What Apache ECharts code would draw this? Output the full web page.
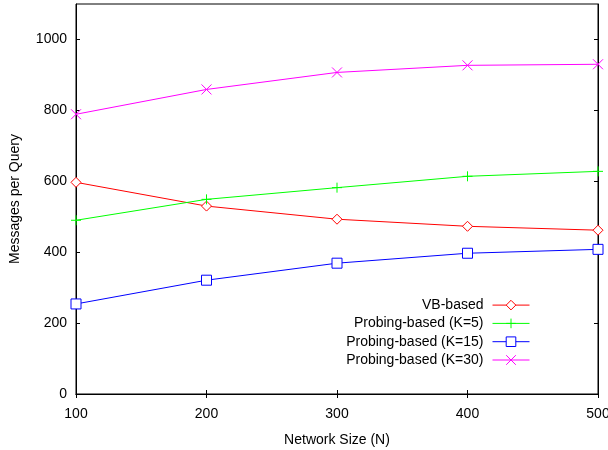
<!DOCTYPE html>
<html><head><meta charset="utf-8">
<script src="https://cdn.jsdelivr.net/npm/echarts@6/dist/echarts.min.js"></script>
<style>html,body{margin:0;padding:0;background:#fff}#c{width:608px;height:450px}</style>
</head><body><div id="c"></div>
<script>
const networkSizes = [100, 200, 300, 400, 500];
const vbBased = [597, 530, 493, 473, 462];
const probingK5 = [490, 549, 582, 614, 628];
const probingK15 = [254, 321, 369, 397, 408];
const probingK30 = [789, 859, 907, 927, 930];
const yTicks = [0, 200, 400, 600, 800, 1000];
const xTicks = [100, 200, 300, 400, 500];
const seriesNames = ['VB-based', 'Probing-based (K=5)', 'Probing-based (K=15)', 'Probing-based (K=30)'];

const font = 'Liberation Sans, Arial, sans-serif';
const plusPath = 'path://M5,0L5,10M0,5L10,5';
const crossPath = 'path://M0,0L10,10M10,0L0,10';

function mk(name, vals, color, symbol, size) {
  return {
    name: name, type: 'line',
    data: networkSizes.map((x, i) => [x, vals[i]]),
    symbol: symbol, symbolSize: size,
    lineStyle: {color: color, width: 1},
    itemStyle: {color: '#fff', borderColor: color, borderWidth: 1},
    emphasis: {disabled: true},
    animation: false
  };
}

const chart = echarts.init(document.getElementById('c'));
chart.setOption({
  animation: false,
  grid: {left: 76, right: 10, top: 4, bottom: 56, show: true, borderColor: '#000', borderWidth: 1,
         backgroundColor: 'transparent', containLabel: false, outerBoundsMode: 'none'},
  xAxis: [{
    type: 'value', min: 100, max: 500, interval: 100,
    name: 'Network Size (N)', nameLocation: 'middle', nameGap: 39,
    nameTextStyle: {fontFamily: font, fontSize: 14, color: '#000'},
    axisLine: {show: true, lineStyle: {color: '#000'}},
    axisTick: {show: true, inside: true, length: 4, lineStyle: {color: '#000'}},
    axisLabel: {fontFamily: font, fontSize: 14, color: '#000', margin: 13, formatter: v => String(v)},
    splitLine: {show: false}
  }, {
    type: 'value', min: 100, max: 500, interval: 100, position: 'top',
    axisLine: {show: true, lineStyle: {color: '#000'}},
    axisTick: {show: true, inside: true, length: 4, lineStyle: {color: '#000'}},
    axisLabel: {show: false}, splitLine: {show: false}
  }],
  yAxis: [{
    type: 'value', min: 0, max: 1100, interval: 200,
    name: 'Messages per Query', nameLocation: 'middle', nameGap: 54,
    nameTextStyle: {fontFamily: font, fontSize: 14, color: '#000'},
    axisLine: {show: true, lineStyle: {color: '#000'}},
    axisTick: {show: true, inside: true, length: 4, lineStyle: {color: '#000'}, customValues: yTicks},
    axisLabel: {fontFamily: font, fontSize: 14, color: '#000', margin: 9, customValues: yTicks, formatter: v => String(v)},
    splitLine: {show: false}
  }, {
    type: 'value', min: 0, max: 1100, interval: 200, position: 'right',
    axisLine: {show: true, lineStyle: {color: '#000'}},
    axisTick: {show: true, inside: true, length: 4, lineStyle: {color: '#000'}, customValues: yTicks},
    axisLabel: {show: false}, splitLine: {show: false}
  }],
  legend: {
    orient: 'vertical', right: 78, bottom: 83, align: 'right', padding: 0,
    itemWidth: 37, itemHeight: 12, itemGap: 4.3,
    lineStyle: {width: 1},
    itemStyle: {borderWidth: 1},
    textStyle: {fontFamily: font, fontSize: 14, lineHeight: 14, color: '#000', padding: [0, 4, 0, 0]},
    data: seriesNames
  },
  series: [
    mk(seriesNames[0], vbBased, '#ff0000', 'diamond', 10),
    mk(seriesNames[1], probingK5, '#00ff00', plusPath, 10),
    mk(seriesNames[2], probingK15, '#0000ff', 'rect', 10),
    mk(seriesNames[3], probingK30, '#ff00ff', crossPath, 10)
  ]
});
</script></body></html>
